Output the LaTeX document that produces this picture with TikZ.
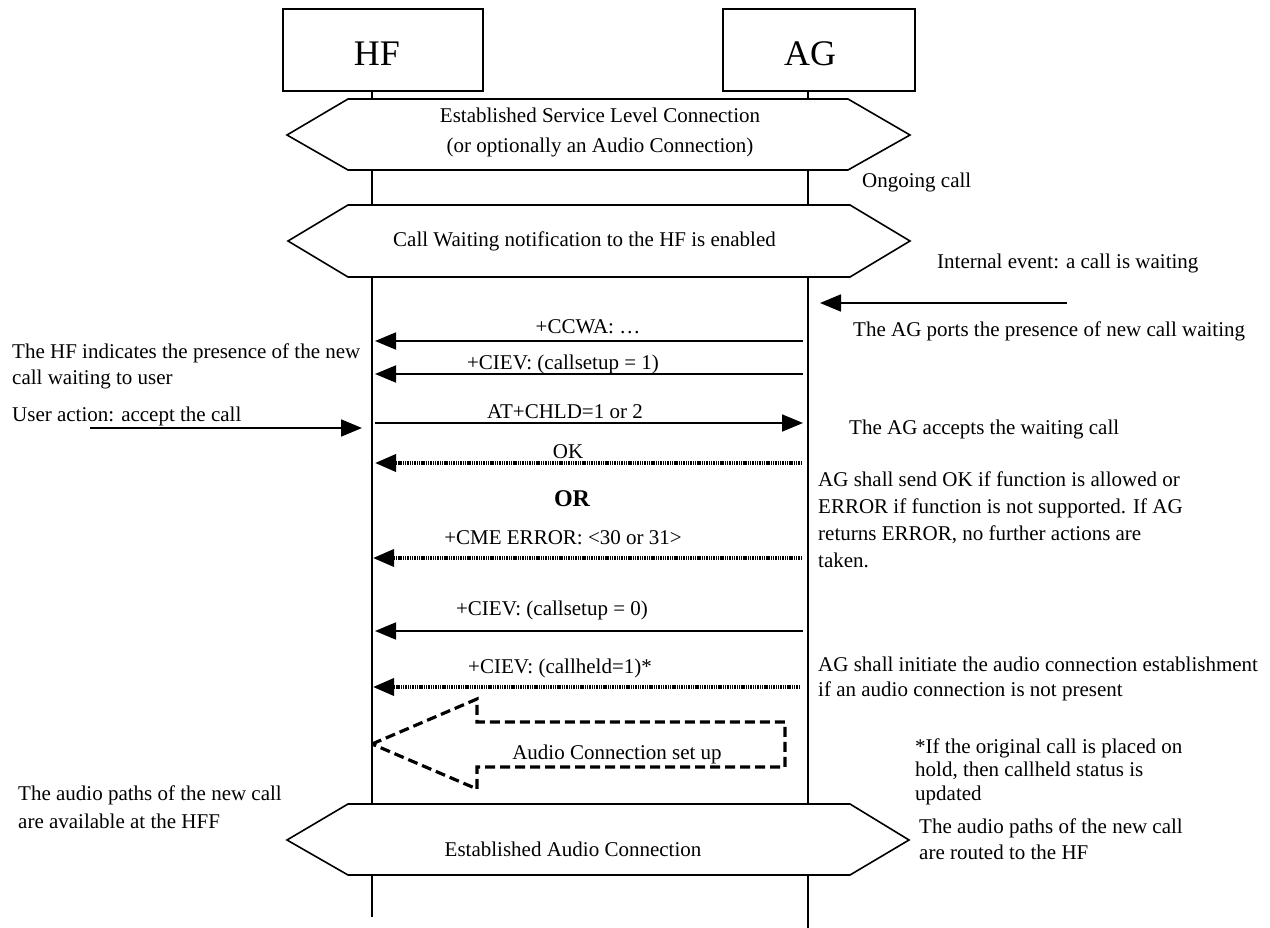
\documentclass[tikz,border=0pt]{standalone}
\usepackage{fontspec}
\setmainfont{Liberation Serif}
\usetikzlibrary{arrows.meta}
\begin{document}
\begin{tikzpicture}[x=1pt,y=-1pt,
  txt/.style={font=\fontsize{21}{25}\selectfont, inner sep=0pt, anchor=base west},
  lbl/.style={font=\fontsize{21}{25}\selectfont, inner sep=0pt, anchor=base},
  big/.style={font=\fontsize{36}{40}\selectfont, inner sep=0pt, anchor=base},
  ent/.style={draw, line width=1.6pt, inner sep=0pt},
  life/.style={line width=1.4pt},
  hexa/.style={draw, line width=1.6pt, fill=white, line join=miter},
  msg/.style={line width=1.8pt, -{Triangle[length=21pt,width=17pt]}},
  dmsg/.style={line width=3.6pt, dash pattern=on 1.4pt off 0.9pt, -{Triangle[length=21pt,width=17pt]}},
  blk/.style={line width=3.2pt, dash pattern=on 10pt off 5pt},
]
\useasboundingbox (0,0) rectangle (1270,928);

% entity boxes
\node[ent, minimum width=200pt, minimum height=82pt] (hf) at (383,50) {};
\node[ent, minimum width=192pt, minimum height=82pt] (ag) at (819,50) {};
\node[big] (hft) at (377,66) {HF};
\node[big] (agt) at (810,66) {AG};

% lifelines
\coordinate (hfend) at (372,917);
\coordinate (agend) at (808,928);
\draw[life] (hf.south -| hfend) -- (hfend);
\draw[life] (ag.south -| agend) -- (agend);

% hexagons
\draw[hexa] (287,135) -- (348,99) -- (848,99) -- (910,135) -- (848,170) -- (348,170) -- cycle;
\node[lbl] (h1a) at (600,123) {Established Service Level Connection};
\node[lbl] (h1b) at (600,153) {(or optionally an Audio Connection)};
\draw[hexa] (288,241) -- (348,205) -- (850,205) -- (910,241) -- (850,277) -- (348,277) -- cycle;
\node[txt] (h2) at (393,247) {Call Waiting notification to the HF is enabled};
\draw[hexa] (287,840) -- (348,804) -- (850,804) -- (909,840) -- (850,875) -- (348,875) -- cycle;
\node[lbl] (h3) at (573,856) {Established Audio Connection};

% side texts
\node[txt] (t1) at (862,188) {Ongoing call};
\node[txt] (t2) at (937,269) {Internal event: a call is waiting};
\node[txt] (t3) at (853,337) {The AG ports the presence of new call waiting};
\node[txt] (t4) at (12,359) {The HF indicates the presence of the new};
\node[txt] (t5) at (12,384) {call waiting to user};
\node[txt] (t6) at (12,421) {User action: accept the call};
\node[txt] (t7) at (849,434) {The AG accepts the waiting call};
\node[txt] (t8) at (818,486) {AG shall send OK if function is allowed or};
\node[txt] (t9) at (818,513) {ERROR if function is not supported. If AG};
\node[txt] (t10) at (818,540) {returns ERROR, no further actions are};
\node[txt] (t11) at (818,567) {taken.};
\node[txt] (t12) at (818,671) {AG shall initiate the audio connection establishment};
\node[txt] (t13) at (818,696) {if an audio connection is not present};
\node[txt] (t14) at (915,753) {*If the original call is placed on};
\node[txt] (t15) at (915,776) {hold, then callheld status is};
\node[txt] (t16) at (915,800) {updated};
\node[txt] (t17) at (18,800) {The audio paths of the new call};
\node[txt] (t18) at (18,828) {are available at the HFF};
\node[txt] (t19) at (919,833) {The audio paths of the new call};
\node[txt] (t20) at (919,859) {are routed to the HF};

% external arrows
\coordinate (ie1) at (1067,303);
\coordinate (ie2) at (820,303);
\draw[msg] (ie1) -- (ie2);
\coordinate (ua1) at (90,428);
\coordinate (ua2) at (362,428);
\draw[msg] (ua1) -- (ua2);

% messages
\coordinate (a1) at (803,341); \coordinate (b1) at (375,341);
\draw[msg] (a1) -- (b1);
\node[lbl] (m1) at (588,334) {+CCWA: \dots};
\coordinate (a2) at (803,374); \coordinate (b2) at (375,374);
\draw[msg] (a2) -- (b2);
\node[lbl] (m2) at (563,369) {+CIEV: (callsetup = 1)};
\coordinate (a3) at (803,423); \coordinate (b3) at (375,423);
\draw[msg] (b3) -- (a3);
\node[lbl] (m3) at (565,418) {AT+CHLD=1 or 2};
\coordinate (a4) at (802,463); \coordinate (b4) at (375,463);
\draw[dmsg] (a4) -- (b4);
\node[lbl] (m4) at (568,458) {OK};
\node[lbl, font=\fontsize{24}{28}\selectfont\bfseries] (or) at (572,506) {OR};
\coordinate (a5) at (802,558); \coordinate (b5) at (373,558);
\draw[dmsg] (a5) -- (b5);
\node[lbl] (m5) at (563,544) {+CME ERROR: <30 or 31>};
\coordinate (a6) at (803,631); \coordinate (b6) at (375,631);
\draw[msg] (a6) -- (b6);
\node[lbl] (m6) at (552,615) {+CIEV: (callsetup = 0)};
\coordinate (a7) at (800,687); \coordinate (b7) at (373,687);
\draw[dmsg] (a7) -- (b7);
\node[lbl] (m7) at (560,673) {+CIEV: (callheld=1)*};

% audio connection set up block arrow
\draw[blk] (372,744) -- (477,699) -- (477,722) -- (785,722) -- (785,767) -- (477,767) -- (477,789) -- cycle;
\node[lbl] (acs) at (617,759) {Audio Connection set up};
\end{tikzpicture}
\end{document}
